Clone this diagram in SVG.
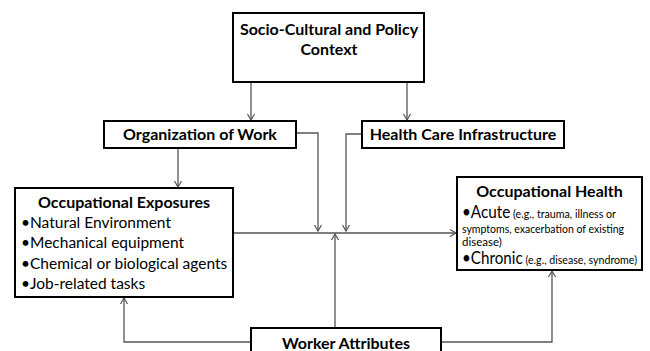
<svg xmlns="http://www.w3.org/2000/svg" width="650" height="351" viewBox="0 0 650 351">
<defs>
<marker id="ah" markerUnits="userSpaceOnUse" markerWidth="10" markerHeight="10" refX="7" refY="4" orient="auto">
<path d="M1,0.5 L7,4 L1,7.5" fill="none" stroke="#555" stroke-width="1.2"/>
</marker>
<style>
.box{fill:#fff;stroke:#000;stroke-width:2}
.t{font-family:Lato,"Liberation Sans",sans-serif;fill:#000}
.b{font-weight:bold;font-size:16px;text-anchor:middle}
.bl{font-size:15.5px}
.sm{font-size:11.5px}
.big{font-size:16.5px}
.c{fill:none;stroke:#555;stroke-width:1.3;marker-end:url(#ah)}
</style>
</defs>
<rect width="650" height="351" fill="#fff"/>
<g id="connectors">
<path class="c" d="M251,82 V120"/>
<path class="c" d="M407,82 V120"/>
<path class="c" d="M296,133 H318 V231"/>
<path class="c" d="M362,134 H346 V231"/>
<path class="c" d="M178,148 V187"/>
<path class="c" d="M233,233 H456"/>
<path class="c" d="M335,328 V234"/>
<path class="c" d="M251,342 H124 V298"/>
<path class="c" d="M441,342 H552 V271"/>
</g>
<g id="socio">
<rect class="box" x="233" y="13" width="191" height="69"/>
<text class="t b" x="329" y="35">Socio-Cultural  and Policy</text>
<text class="t b" x="329" y="55">Context</text>
</g>
<g id="org">
<rect class="box" x="104" y="121" width="192" height="27"/>
<text class="t b" x="200" y="140">Organization of Work</text>
</g>
<g id="hci">
<rect class="box" x="362" y="121" width="202" height="27"/>
<text class="t b" x="463" y="140">Health Care Infrastructure</text>
</g>
<g id="exposures">
<rect class="box" x="15" y="188" width="218" height="109"/>
<text class="t b" x="124" y="208">Occupational Exposures</text>
<text class="t bl" x="21" y="228">•Natural Environment</text>
<text class="t bl" x="21" y="248">•Mechanical equipment</text>
<text class="t bl" x="21" y="269">•Chemical or biological agents</text>
<text class="t bl" x="21" y="289">•Job-related tasks</text>
</g>
<g id="health">
<rect class="box" x="457" y="177" width="185" height="93"/>
<text class="t b" x="549.5" y="197">Occupational Health</text>
<text class="t" x="462" y="218" textLength="154" lengthAdjust="spacingAndGlyphs"><tspan class="big">•Acute</tspan><tspan class="sm"> (e.g., trauma, illness or</tspan></text>
<text class="t sm" x="462" y="233" textLength="162" lengthAdjust="spacingAndGlyphs">symptoms, exacerbation of existing</text>
<text class="t sm" x="462" y="246">disease)</text>
<text class="t" x="462" y="264" textLength="175" lengthAdjust="spacingAndGlyphs"><tspan class="big">•Chronic</tspan><tspan class="sm"> (e.g., disease, syndrome)</tspan></text>
</g>
<g id="worker">
<rect class="box" x="251" y="328" width="190" height="32"/>
<text class="t b" x="346" y="349">Worker Attributes</text>
</g>
</svg>
